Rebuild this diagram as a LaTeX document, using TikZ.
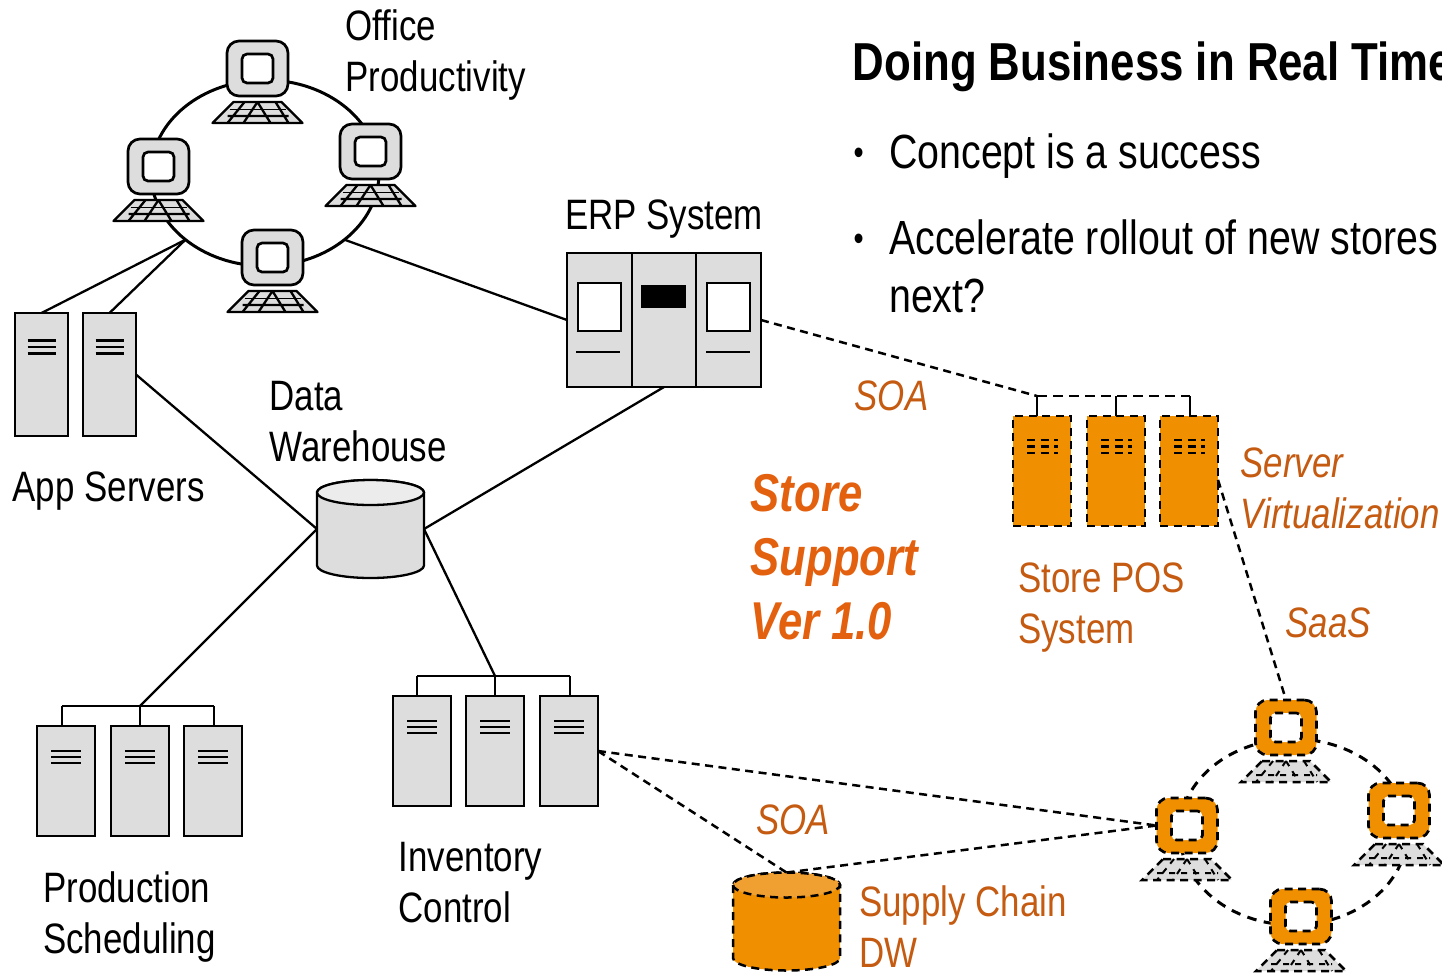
\documentclass[tikz,border=0pt]{standalone}
\usepackage{fontspec}
\setmainfont{Liberation Sans}[FakeStretch=0.82]
\usetikzlibrary{shapes.geometric, positioning, calc, chains}
\definecolor{boxgrey}{HTML}{DDDDDD}
\definecolor{endgrey}{HTML}{ECECEC}
\definecolor{podorange}{HTML}{F09000}
\definecolor{endorange}{HTML}{F0A030}
\definecolor{newtext}{HTML}{C55A11}
\definecolor{headtext}{HTML}{E3600F}
\tikzset{
	wire/.style={line width=0.23mm},
	heavy/.style={line width=0.28mm},
	dashwire/.style={line width=0.25mm, dash pattern=on 0.8mm off 0.55mm},
	dashbus/.style={line width=0.28mm, dash pattern=on 0.95mm off 0.65mm},
	server/.style={draw, line width=0.27mm, fill=boxgrey, inner sep=0, outer sep=0, minimum width=5.8mm, minimum height=11mm},
	appserver/.style={server, minimum width=5.3mm, minimum height=12.3mm},
	erpcab/.style={server, minimum height=13.4mm},
	newserver/.style={server, fill=podorange, dash pattern=on 0.8mm off 0.55mm},
	monitor/.style={draw, line width=0.27mm, fill=boxgrey, rounded corners=1.2mm, inner sep=0, outer sep=0, minimum width=6.1mm, minimum height=5.5mm},
	screen/.style={draw, line width=0.27mm, fill=white, rounded corners=0.5mm, inner sep=0, minimum width=3.1mm, minimum height=2.9mm},
	newmonitor/.style={monitor, fill=podorange, dash pattern=on 0.8mm off 0.55mm},
	newscreen/.style={screen, dash pattern=on 0.8mm off 0.55mm},
	ring/.style={draw, ellipse, inner sep=0, outer sep=0, minimum width=22.8mm, minimum height=18.6mm},
	barrel/.style={inner sep=0, outer sep=0, minimum width=10.7mm, minimum height=9.8mm},
	lbl/.style={inner sep=0, anchor=base west, align=left, font=\fontsize{12.1}{14.4}\selectfont},
	body/.style={lbl, font=\fontsize{13.65}{16.5}\selectfont},
	dot/.style={lbl, font=\fontsize{10}{11}\selectfont},
	newlbl/.style={lbl, text=newtext},
	newital/.style={newlbl, font=\fontsize{12.1}{14.4}\selectfont\itshape},
}
\newcommand{\keyboard}[2]{
	\fill[boxgrey] (#1-24,#2+33.5) -- (#1+24,#2+33.5) -- (#1+45,#2+54.5) -- (#1-45,#2+54.5) -- cycle;
}
% x, y, body fill, end fill, line style
\newcommand{\barrelbody}[5]{
	\draw[#5, fill=#3] (#1-53.5,#2-36.5) -- (#1-53.5,#2+36.5) arc[start angle=180, end angle=360, x radius=5.35mm, y radius=1.25mm] -- (#1+53.5,#2-36.5) arc[start angle=0, end angle=180, x radius=5.35mm, y radius=1.25mm] -- cycle;
	\draw[#5, fill=#4] (#1-53.5,#2-36.5) arc[start angle=180, end angle=540, x radius=5.35mm, y radius=1.25mm];
}
\begin{document}
\begin{tikzpicture}[x=0.1mm, y=-0.1mm]
	\useasboundingbox (0,0) rectangle (1442,974);
	% rings go under the machines
	\node[ring, line width=0.3mm] (ringa) at (265,173) {};
	\node[ring, line width=0.3mm, dash pattern=on 0.95mm off 0.75mm] (ringb) at (1293.5,832) {};
	% office machines
	\foreach \nm/\cx/\cy in {pa/257.5/68.5,pb/370.5/151.5,pc/158.5/166.5,pd/272.5/257.5} {
		\keyboard{\cx}{\cy}
		\draw[wire, line join=round] (\cx-24,\cy+33.5) -- (\cx+24,\cy+33.5) -- (\cx+45,\cy+54.5) -- (\cx-45,\cy+54.5) -- cycle;
		\draw[wire] (\cx-13,\cy+33.5) -- (\cx-30,\cy+54.5) (\cx,\cy+33.5) -- (\cx-14,\cy+54.5) (\cx,\cy+33.5) -- (\cx+13,\cy+54.5) (\cx+18,\cy+33.5) -- (\cx+31,\cy+54.5) (\cx-30,\cy+47.5) -- (\cx+31,\cy+47.5);
		\draw[line width=0.12mm] (\cx-28,\cy+41) -- (\cx+28,\cy+41);
		\node[monitor] (\nm) at (\cx,\cy) {};
		\node[screen] (\nm s) at (\cx,\cy) {};
	}
	% supply chain machines
	\foreach \nm/\cx/\cy in {qa/1286/727.5,qb/1399/810.5,qc/1187/825.5,qd/1301/916.5} {
		\keyboard{\cx}{\cy}
		\draw[dashwire] (\cx-24,\cy+33.5) -- (\cx+24,\cy+33.5) -- (\cx+45,\cy+54.5) -- (\cx-45,\cy+54.5) -- cycle;
		\draw[line width=0.2mm, dash pattern=on 0.6mm off 0.6mm] (\cx-13,\cy+33.5) -- (\cx-30,\cy+54.5) (\cx,\cy+33.5) -- (\cx-14,\cy+54.5) (\cx,\cy+33.5) -- (\cx+13,\cy+54.5) (\cx+18,\cy+33.5) -- (\cx+31,\cy+54.5) (\cx-30,\cy+47.5) -- (\cx+31,\cy+47.5);
		\node[newmonitor] (\nm) at (\cx,\cy) {};
		\node[newscreen] (\nm s) at (\cx,\cy) {};
	}
	% servers
	\foreach \nm/\cx/\cy in {as/41.5/374.5,at/109.5/374.5} {
		\node[appserver] (\nm) at (\cx,\cy) {};
		\foreach \dy in {34,27.5,21}
			\draw[wire] (\cx-14,\cy-\dy) -- (\cx+14,\cy-\dy);
	}
	\foreach \nm/\cx/\cy in {pr/66/781,ps/140/781,pt/213/781,ia/422/751,ib/495/751,ic/569/751} {
		\node[server] (\nm) at (\cx,\cy) {};
		\foreach \dy in {30,24,18}
			\draw[wire] (\cx-15,\cy-\dy) -- (\cx+15,\cy-\dy);
	}
	\foreach \nm/\cx/\cy in {sx/1042/471,sy/1116/471,sz/1189/471} {
		\node[newserver] (\nm) at (\cx,\cy) {};
		\foreach \dy in {31,24.5,18}
			\draw[dashwire] (\cx-15,\cy-\dy) -- (\cx+16,\cy-\dy);
	}
	% ERP cabinets
	\begin{scope}[start chain=3 going right, node distance=0mm]
		\node[erpcab, minimum width=6.5mm, on chain=3] (ea) at (599.5,320) {};
		\node[erpcab, minimum width=6.4mm, on chain=3] (eb) {};
		\node[erpcab, minimum width=6.5mm, on chain=3] (ec) {};
	\end{scope}
	\node[draw, wire, fill=white, inner sep=0, minimum width=4.3mm, minimum height=4.8mm] (ewl) at (599.5,307) {};
	\node[draw, wire, fill=white, inner sep=0, minimum width=4.3mm, minimum height=4.8mm] (ewr) at (728.5,307) {};
	\node[fill=black, inner sep=0, minimum width=4.5mm, minimum height=2.3mm] (ebk) at (663.5,296.5) {};
	\draw[wire] (576,352) -- (620,352) (706,352) -- (750,352);
	% storage
	\barrelbody{370.5}{529}{boxgrey}{endgrey}{wire}
	\barrelbody{786.5}{921.5}{podorange}{endorange}{dashwire}
	\node[barrel] (dw) at (370.5,529) {};
	\node[barrel] (dc) at (786.5,921.5) {};
	% bus ends
	\coordinate (pbl) at (62,706);
	\coordinate (pbr) at (214,706);
	\coordinate (ibl) at (417,676);
	\coordinate (ibr) at (570,676);
	\coordinate (sbl) at (1037,396);
	\coordinate (sbr) at (1190,396);
	\draw[heavy] (pbl) -- (pbr) (pbl) -- (pbl |- pr.north) (pbr) -- (pbr |- pt.north) (ps.north) -- (ps.north |- pbl);
	\draw[heavy] (ibl) -- (ibr) (ibl) -- (ibl |- ia.north) (ibr) -- (ibr |- ic.north) (ib.north) -- (ib.north |- ibl);
	\draw[dashbus] (sbl) -- (sbr);
	\draw[heavy] (sbl) -- (sbl |- sx.north) (sbr) -- (sbr |- sz.north) (sy.north) -- (sy.north |- sbl);
	% links
	\coordinate (psb) at (ps.north |- pbl);
	\coordinate (ibb) at (ib.north |- ibl);
	\foreach \from/\to in {ringa.220/as.north,ringa.220/at.north,ringa.320/ea.west,at.east/dw.west,eb.south/dw.east,dw.west/psb,dw.east/ibb}
		\draw[wire] (\from) -- (\to);
	\foreach \from/\to in {ec.east/sbl,sz.343/qa.north,ic.east/qc.west,ic.east/dc.north,dc.north/qc.west}
		\draw[dashwire] (\from) -- (\to);
	% labels
	\node[lbl] (lo) at (345,91) {Office\\Productivity};
	\node[lbl] (le) at (564.5,229) {ERP System};
	\node[lbl] (ld) at (269,461) {Data\\Warehouse};
	\node[lbl] (la) at (12,501) {App Servers};
	\node[lbl] (lp) at (42.5,953) {Production\\Scheduling};
	\node[lbl] (li) at (398,922) {Inventory\\Control};
	\node[newital] (ls) at (854,410) {SOA};
	\node[newital] (lt) at (755.5,834) {SOA};
	\node[newital] (lv) at (1240,528) {Server\\Virtualization};
	\node[newital] (lq) at (1285,637) {SaaS};
	\node[newlbl] (lf) at (1017.5,643) {Store POS\\System};
	\node[newlbl] (lc) at (858.5,967) {Supply Chain\\DW};
	\node[lbl, text=headtext, font=\fontsize{15.15}{18.2}\selectfont\bfseries\itshape] (lh) at (750,639) {Store\\Support\\Ver 1.0};
	\node[lbl, font=\fontsize{15.2}{18}\selectfont\bfseries] (title) at (852,80) {Doing Business in Real Time};
	\node[dot] (ba) at (853,164) {•};
	\node[body] (ta) at (888.5,168) {Concept is a success};
	\node[dot] (bb) at (853,250) {•};
	\node[body] (tb) at (888.5,312) {Accelerate rollout of new stores\\next?};
\end{tikzpicture}
\end{document}
